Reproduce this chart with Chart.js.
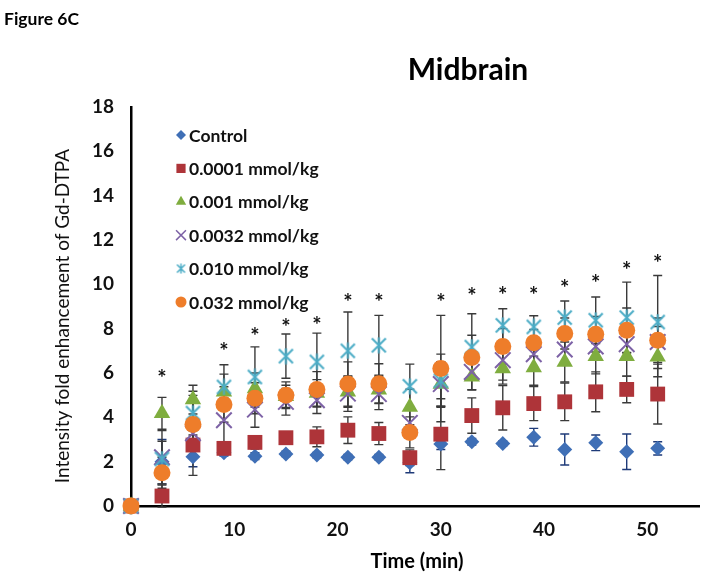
<!DOCTYPE html>
<html><head><meta charset="utf-8">
<script src="https://cdn.jsdelivr.net/npm/chart.js@4.4.0/dist/chart.umd.min.js"></script>
<style>html,body{margin:0;padding:0;background:#fff;}#wrap{width:712px;height:582px;}</style>
</head><body><div id="wrap"><canvas id="c" width="712" height="582"></canvas></div>
<script>
// ---- data ----
const times = [0,3,6,9,12,15,18,21,24,27,30,33,36,39,42,45,48,51];
const seriesNames = ['Control','0.0001 mmol/kg','0.001 mmol/kg','0.0032 mmol/kg','0.010 mmol/kg','0.032 mmol/kg'];
const control   = [0,2.0,2.22,2.4,2.25,2.35,2.3,2.2,2.2,1.95,2.8,2.9,2.82,3.1,2.55,2.85,2.45,2.6];
const controlErr= [0,1.0,0.45,0.15,0.15,0.12,0.12,0.12,0.12,0.45,0.25,0.15,0.12,0.4,0.7,0.35,0.8,0.3];
const dose00001   = [0,0.45,2.75,2.6,2.87,3.08,3.12,3.42,3.27,2.18,3.24,4.08,4.43,4.62,4.7,5.15,5.26,5.05];
const dose00001Err= [0,0.5,0.45,0.3,0.3,0.25,0.45,0.6,0.5,0.35,1.6,0.8,1.0,0.77,0.85,0.9,0.6,1.35];
const dose0001    = [0,4.18,4.8,5.15,5.3,4.95,5.1,5.15,5.25,4.47,5.5,5.83,6.2,6.25,6.5,6.76,6.76,6.73];
const dose0001Err = [0,0.72,0.65,0.8,0.7,0.5,0.6,0.7,0.6,0.8,1.0,0.6,0.7,0.8,0.9,0.8,0.9,0.9];
const dose00032   = [0,2.2,3.28,3.87,4.35,4.7,4.77,5.07,5.05,3.75,5.5,6.05,6.58,6.85,7.06,7.2,7.3,7.4];
const dose00032Err= [0,1.2,1.9,1.0,0.8,0.6,0.6,0.8,0.7,0.6,1.0,0.8,0.9,0.6,0.7,0.6,0.6,0.7];
const dose0010    = [0,2.12,4.19,5.37,5.82,6.76,6.5,7.0,7.25,5.4,5.65,7.17,8.15,8.08,8.5,8.38,8.5,8.3];
const dose0010Err = [0,0.8,0.8,1.0,1.36,1.0,1.3,1.75,1.35,1.0,1.2,1.5,0.75,0.5,0.75,1.05,1.6,2.1];
const dose0032    = [0,1.5,3.68,4.58,4.86,5.0,5.26,5.5,5.52,3.32,6.2,6.7,7.2,7.36,7.78,7.75,7.93,7.48];
const dose0032Err = [0,0.7,1.0,0.8,0.7,0.6,0.8,1.0,0.9,0.7,2.4,1.0,0.8,0.6,0.7,0.8,1.0,1.0];
const starTimes   = [3,9,12,15,18,21,24,30,33,36,39,42,45,48,51];
const starLevels  = [6.0,7.2,7.9,8.3,8.4,9.43,9.45,9.45,9.68,9.73,9.73,10.06,10.3,10.86,11.2];
const yTicks = [0,2,4,6,8,10,12,14,16,18];
const xTicks = [0,10,20,30,40,50];

const FONT = "Lato, 'Liberation Sans', sans-serif";
const COLORS = ['#3F6FB6','#AE3439','#7FAD3F','#7D62A6','#4BACC6','#EE7D2A'];
const ERRCOL = ['#1E3A78','#3a3a3a','#3a3a3a','#3a3a3a','#3a3a3a','#3a3a3a'];

function asteriskImg(color, s, lw){
  const c=document.createElement('canvas'); c.width=s; c.height=s;
  const g=c.getContext('2d'); g.strokeStyle=color; g.lineWidth=lw;
  const m=1.5;
  g.beginPath(); g.moveTo(m,m); g.lineTo(s-m,s-m); g.moveTo(s-m,m); g.lineTo(m,s-m);
  g.moveTo(s/2,0.5); g.lineTo(s/2,s-0.5); g.stroke(); return c;
}
const starBig = asteriskImg(COLORS[4],17,2);
const starSmall = asteriskImg(COLORS[4],11,1.5);

const pts = arr => arr.map((v,i)=>({x:times[i], y:v}));
const vals = [control,dose00001,dose0001,dose00032,dose0010,dose0032];
const errs = [controlErr,dose00001Err,dose0001Err,dose00032Err,dose0010Err,dose0032Err];
const styles = [
  {pointStyle:'rectRot', radius:7.5, bw:0},
  {pointStyle:'rect', radius:10.5, bw:0},
  {pointStyle:'triangle', radius:9.5, bw:0},
  {pointStyle:'crossRot', radius:11, bw:2},
  {pointStyle:starBig, radius:9, bw:2},
  {pointStyle:'circle', radius:8.5, bw:0}
];
const legendStyles = [
  {pointStyle:'rectRot', radius:5},
  {pointStyle:'rect', radius:6.5},
  {pointStyle:'triangle', radius:6},
  {pointStyle:'crossRot', radius:7, bw:1.5},
  {pointStyle:starSmall, radius:6},
  {pointStyle:'circle', radius:5.5}
];

const datasets = seriesNames.map((name,i)=>({
  label:name, data:pts(vals[i]), errors:errs[i], errColor:ERRCOL[i],
  showLine:false, clip:false, pointStyle:styles[i].pointStyle, pointRadius:styles[i].radius,
  pointHoverRadius:styles[i].radius,
  pointBackgroundColor:COLORS[i], pointBorderColor:COLORS[i], pointBorderWidth:styles[i].bw,
  order: 6-i
}));

const errorBars = {
  id:'errorBars',
  beforeDatasetsDraw(chart){
    const {ctx, scales:{x,y}} = chart;
    ctx.save(); ctx.lineWidth=1.4;
    chart.data.datasets.forEach(ds=>{
      ctx.strokeStyle = ds.errColor;
      ds.data.forEach((p,i)=>{
        const e = ds.errors[i]; if(!e) return;
        const px = x.getPixelForValue(p.x);
        const y1 = y.getPixelForValue(p.y+e), y2 = y.getPixelForValue(p.y-e);
        ctx.beginPath();
        ctx.moveTo(px,y1); ctx.lineTo(px,y2);
        ctx.moveTo(px-4.5,y1); ctx.lineTo(px+4.5,y1);
        ctx.moveTo(px-4.5,y2); ctx.lineTo(px+4.5,y2);
        ctx.stroke();
      });
    });
    ctx.restore();
  }
};

const decor = {
  id:'decor',
  afterDraw(chart){
    const {ctx, scales:{x,y}} = chart;
    ctx.save();
    // significance asterisks
    ctx.fillStyle='#111'; ctx.font="bold 22px "+FONT; ctx.textAlign='center'; ctx.textBaseline='alphabetic';
    starTimes.forEach((t,i)=>{
      ctx.fillText('*', x.getPixelForValue(t), y.getPixelForValue(starLevels[i])+13);
    });
    // legend
    const lx=181, ly0=135, step=33.4;
    seriesNames.forEach((name,i)=>{
      const yy = ly0 + i*step;
      ctx.fillStyle=COLORS[i]; ctx.strokeStyle=COLORS[i];
      ctx.lineWidth = legendStyles[i].bw || 1;
      Chart.helpers.drawPoint(ctx,{pointStyle:legendStyles[i].pointStyle, radius:legendStyles[i].radius, rotation:0, borderWidth:legendStyles[i].bw||0}, lx, yy);
      ctx.fillStyle='#111'; ctx.font="bold 17.5px "+FONT; ctx.textAlign='left'; ctx.textBaseline='middle';
      ctx.fillText(name, lx+8, yy+1);
    });
    // titles
    ctx.fillStyle='#000'; ctx.textBaseline='middle';
    ctx.font="bold 17.5px "+FONT; ctx.textAlign='left';
    ctx.fillText('Figure 6C', 4, 19);
    ctx.font="bold 30px "+FONT; ctx.textAlign='center';
    ctx.fillText('Midbrain', 468, 70);
    ctx.font="bold 20px "+FONT;
    ctx.fillText('Time (min)', 417, 562);
    ctx.translate(63, 316); ctx.rotate(-Math.PI/2);
    ctx.font="19px "+FONT; ctx.fillStyle='#111';
    ctx.fillText('Intensity fold enhancement of Gd-DTPA', 0, 0);
    ctx.restore();
  }
};

new Chart(document.getElementById('c'), {
  type:'scatter',
  data:{datasets},
  options:{
    responsive:false, animation:false, devicePixelRatio:1,
    layout:{padding:{left:0,top:107,right:8,bottom:0}},
    plugins:{legend:{display:false}, tooltip:{enabled:false}, title:{display:false}},
    scales:{
      x:{type:'linear', min:0, max:55,
        afterBuildTicks(s){ s.ticks = xTicks.map(v=>({value:v})); },
        afterFit(s){ s.height = 76; },
        grid:{display:false, drawTicks:false},
        border:{display:true, color:'#000', width:2.5},
        ticks:{padding:12, color:'#111', font:{family:FONT, size:19, weight:'bold'}}
      },
      y:{type:'linear', min:0, max:18,
        afterBuildTicks(s){ s.ticks = yTicks.map(v=>({value:v})); },
        afterFit(s){ s.width = 131; },
        grid:{display:false, drawTicks:false},
        border:{display:true, color:'#000', width:2.5},
        ticks:{padding:17, color:'#111', font:{family:FONT, size:19, weight:'bold'}}
      }
    }
  },
  plugins:[errorBars, decor]
});
</script></body></html>
